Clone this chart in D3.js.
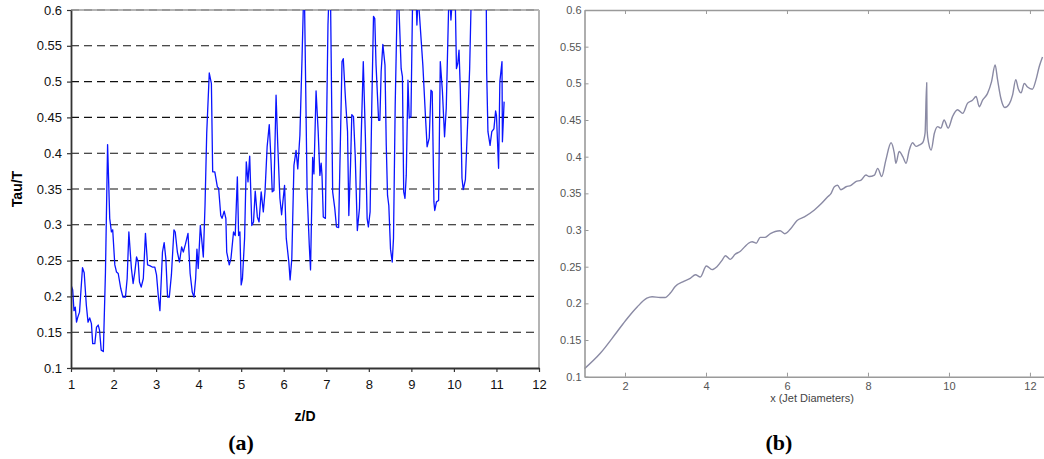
<!DOCTYPE html>
<html lang="en">
<head>
<meta charset="UTF-8">
<title>Tau/T vs z/D</title>
<script src="https://d3js.org/d3.v7.min.js"></script>
<style>
  body { margin: 0; background: #fff; }
  svg { display: block; }
</style>
</head>
<body>
<script type="text/javascript">
// ---- panel (a): measured Tau/T against z/D ----
var aZ = [1.00,1.04,1.07,1.10,1.13,1.16,1.20,1.27,1.31,1.36,1.40,1.44,1.48,1.51,1.56,1.60,1.64,1.67,1.71,1.76,
  1.81,1.86,1.91,1.95,1.98,2.03,2.07,2.11,2.17,2.22,2.28,2.32,2.36,2.42,2.46,2.50,2.54,2.58,2.61,2.65,
  2.70,2.75,2.80,2.85,2.91,2.97,3.01,3.05,3.09,3.15,3.19,3.23,3.27,3.31,3.36,3.42,3.45,3.50,3.55,3.60,
  3.64,3.69,3.75,3.80,3.85,3.89,3.93,3.96,3.99,4.04,4.07,4.11,4.15,4.19,4.25,4.30,4.33,4.38,4.44,4.47,
  4.52,4.55,4.60,4.64,4.66,4.72,4.76,4.82,4.86,4.91,4.94,4.97,5.00,5.03,5.08,5.12,5.16,5.20,5.25,5.29,
  5.33,5.38,5.42,5.47,5.52,5.56,5.61,5.66,5.70,5.73,5.77,5.82,5.86,5.91,5.95,5.98,6.02,6.06,6.12,6.15,
  6.19,6.24,6.29,6.33,6.38,6.43,6.48,6.55,6.60,6.63,6.68,6.71,6.76,6.81,6.85,6.88,6.90,6.93,6.98,7.00,
  7.04,7.09,7.15,7.20,7.24,7.29,7.33,7.37,7.40,7.45,7.50,7.53,7.57,7.60,7.64,7.68,7.73,7.78,7.82,7.87,
  7.92,7.96,7.99,8.03,8.07,8.11,8.14,8.17,8.23,8.26,8.29,8.33,8.38,8.41,8.44,8.47,8.51,8.55,8.58,8.62,
  8.68,8.76,8.79,8.82,8.85,8.88,8.92,8.95,8.99,9.04,9.10,9.13,9.16,9.27,9.33,9.37,9.42,9.46,9.49,9.53,
  9.55,9.59,9.64,9.68,9.73,9.78,9.82,9.89,9.93,9.98,10.03,10.06,10.09,10.12,10.15,10.19,10.22,10.27,10.33,10.37,
  10.43,10.55,10.67,10.76,10.77,10.80,10.85,10.89,10.94,10.98,11.00,11.05,11.08,11.13,11.14,11.18];
var aTau = [0.216,0.209,0.180,0.185,0.164,0.171,0.178,0.240,0.233,0.188,0.164,0.170,0.162,0.134,0.134,0.157,0.160,0.153,0.125,0.123,
  0.234,0.412,0.309,0.290,0.293,0.244,0.234,0.232,0.211,0.199,0.199,0.225,0.290,0.239,0.218,0.234,0.255,0.248,0.220,0.213,
  0.225,0.288,0.244,0.243,0.241,0.241,0.230,0.202,0.180,0.262,0.275,0.252,0.199,0.199,0.230,0.293,0.290,0.262,0.248,0.269,
  0.262,0.273,0.288,0.232,0.206,0.199,0.225,0.266,0.239,0.299,0.281,0.255,0.327,0.428,0.512,0.497,0.374,0.374,0.353,0.351,
  0.313,0.309,0.319,0.309,0.262,0.244,0.253,0.290,0.285,0.367,0.285,0.290,0.216,0.225,0.281,0.388,0.360,0.396,0.299,0.304,
  0.347,0.311,0.304,0.346,0.318,0.346,0.409,0.440,0.392,0.346,0.348,0.481,0.411,0.337,0.314,0.332,0.355,0.281,0.248,0.223,
  0.253,0.383,0.404,0.378,0.425,0.532,0.650,0.346,0.272,0.237,0.394,0.371,0.487,0.430,0.369,0.386,0.369,0.311,0.309,0.411,
  0.579,0.670,0.346,0.323,0.297,0.296,0.411,0.528,0.532,0.477,0.430,0.313,0.383,0.454,0.451,0.397,0.292,0.323,0.421,0.528,
  0.421,0.309,0.297,0.318,0.468,0.591,0.588,0.523,0.446,0.446,0.514,0.552,0.523,0.411,0.341,0.327,0.266,0.248,0.281,0.467,
  0.650,0.518,0.507,0.346,0.337,0.369,0.502,0.449,0.451,0.660,0.640,0.579,0.620,0.523,0.453,0.409,0.421,0.488,0.486,0.332,
  0.320,0.332,0.334,0.528,0.486,0.423,0.463,0.640,0.586,0.630,0.620,0.518,0.525,0.544,0.490,0.365,0.349,0.363,0.453,0.518,
  0.680,0.700,0.680,0.620,0.514,0.430,0.411,0.430,0.434,0.459,0.453,0.379,0.500,0.528,0.416,0.472];
var aXTicks = [1,2,3,4,5,6,7,8,9,10,11,12];
var aYTicks = [0.1,0.15,0.2,0.25,0.3,0.35,0.4,0.45,0.5,0.55,0.6];

// ---- panel (b): computed Tau/T against x (jet diameters) ----
var bX = [1.00,1.39,1.80,2.05,2.30,2.54,2.67,2.87,2.99,3.12,3.24,3.45,3.61,3.74,3.86,4.01,4.15,4.27,4.40,4.48,
  4.60,4.72,4.85,4.97,5.05,5.14,5.24,5.34,5.46,5.59,5.71,5.83,5.95,6.08,6.25,6.43,6.67,6.85,7.00,7.09,
  7.17,7.25,7.33,7.46,7.58,7.70,7.83,7.95,8.03,8.16,8.24,8.34,8.44,8.57,8.65,8.69,8.77,8.86,8.94,9.02,
  9.10,9.19,9.27,9.35,9.41,9.45,9.46,9.50,9.56,9.64,9.72,9.80,9.88,9.98,10.09,10.21,10.34,10.46,10.58,10.67,
  10.75,10.83,10.95,11.05,11.14,11.20,11.28,11.38,11.49,11.57,11.65,11.71,11.78,11.86,11.94,12.06,12.15,12.23,12.31];
var bTau = [0.111,0.132,0.161,0.179,0.195,0.207,0.209,0.208,0.208,0.214,0.223,0.230,0.234,0.239,0.236,0.251,0.246,0.250,0.259,0.265,
  0.260,0.267,0.271,0.278,0.282,0.284,0.282,0.290,0.290,0.295,0.298,0.299,0.295,0.301,0.313,0.318,0.327,0.336,0.345,0.350,
  0.359,0.361,0.355,0.359,0.361,0.366,0.368,0.375,0.373,0.375,0.384,0.373,0.395,0.419,0.405,0.391,0.407,0.400,0.391,0.409,
  0.419,0.414,0.416,0.419,0.432,0.501,0.436,0.418,0.409,0.432,0.441,0.439,0.450,0.439,0.455,0.464,0.459,0.473,0.477,0.482,
  0.468,0.477,0.486,0.502,0.525,0.505,0.480,0.467,0.472,0.484,0.505,0.493,0.487,0.500,0.495,0.492,0.505,0.523,0.536];
var bXTicks = [2,4,6,8,10,12];
var bYTicks = [0.1,0.15,0.2,0.25,0.3,0.35,0.4,0.45,0.5,0.55,0.6];

var W = 1044, H = 459;
var fmt = d3.format(".2~f");

var svg = d3.select("body").append("svg").attr("width", W).attr("height", H);

// ================= panel (a) =================
var ax = d3.scaleLinear().domain([1, 12]).range([71, 539]);
var ay = d3.scaleLinear().domain([0.1, 0.6]).range([368, 10]);

var ga = svg.append("g");

// frame on top and right (grey)
ga.append("line").attr("x1", ax(1)).attr("x2", ax(12)).attr("y1", ay(0.6)).attr("y2", ay(0.6))
  .attr("stroke", "#b4b4b4").attr("stroke-width", 2);
ga.append("line").attr("x1", ax(12)).attr("x2", ax(12)).attr("y1", ay(0.6)).attr("y2", ay(0.1))
  .attr("stroke", "#b4b4b4").attr("stroke-width", 2);

// dashed grid
ga.append("g")
  .selectAll("line")
  .data(aYTicks.filter(function(d){ return d > 0.1; }))
  .enter()
  .append("line")
  .attr("x1", ax(1)).attr("x2", ax(12))
  .attr("y1", function(d){ return ay(d); })
  .attr("y2", function(d){ return ay(d); })
  .attr("stroke", function(d){ return d === 0.6 ? "#808080" : "#111"; })
  .attr("stroke-width", 1.1)
  .attr("stroke-dasharray", "8,5");

// line
ga.append("clipPath").attr("id", "clipA")
  .append("rect").attr("x", ax(1)).attr("y", ay(0.6)).attr("width", ax(12) - ax(1)).attr("height", ay(0.1) - ay(0.6));

var lineA = d3.line()
  .x(function(d, i){ return ax(aZ[i]); })
  .y(function(d){ return ay(d); });

ga.append("path")
  .datum(aTau)
  .attr("clip-path", "url(#clipA)")
  .attr("d", lineA)
  .attr("fill", "none")
  .attr("stroke", "#0a14ff")
  .attr("stroke-width", 1.3)
  .attr("stroke-linejoin", "round");

// axes
var aLeft = ga.append("g").attr("transform", "translate(" + ax(1) + ",0)")
  .call(d3.axisLeft(ay).tickValues(aYTicks).tickFormat(fmt).tickSizeInner(4).tickSizeOuter(0).tickPadding(5));
var aBottom = ga.append("g").attr("transform", "translate(0," + ay(0.1) + ")")
  .call(d3.axisBottom(ax).tickValues(aXTicks).tickFormat(d3.format("d")).tickSizeInner(4).tickSizeOuter(0).tickPadding(8));

[aLeft, aBottom].forEach(function(g){
  g.select(".domain").attr("stroke", "#333").attr("stroke-width", 1.8);
  g.selectAll(".tick line").attr("stroke", "#333").attr("stroke-width", 1.2);
  g.selectAll("text").attr("font-family", "Liberation Sans, Arial, sans-serif")
    .attr("font-size", "13px").attr("fill", "#111");
});

ga.append("text")
  .attr("transform", "translate(22," + ((ay(0.6) + ay(0.1)) / 2) + ") rotate(-90)")
  .attr("text-anchor", "middle")
  .attr("font-family", "Liberation Sans, Arial, sans-serif")
  .attr("font-size", "14px").attr("font-weight", "bold")
  .text("Tau/T");

ga.append("text")
  .attr("x", (ax(1) + ax(12)) / 2).attr("y", 421)
  .attr("text-anchor", "middle")
  .attr("font-family", "Liberation Sans, Arial, sans-serif")
  .attr("font-size", "14px").attr("font-weight", "bold")
  .text("z/D");

ga.append("text")
  .attr("x", 241).attr("y", 450)
  .attr("text-anchor", "middle")
  .attr("font-family", "Liberation Serif, Times New Roman, serif")
  .attr("font-size", "22px").attr("font-weight", "bold")
  .text("(a)");

// ================= panel (b) =================
var bx = d3.scaleLinear().domain([1, 12.5]).range([584.5, 1050.2]);
var by = d3.scaleLinear().domain([0.1, 0.6]).range([376.7, 10]);

var gb = svg.append("g");

var lineB = d3.line()
  .x(function(d, i){ return bx(bX[i]); })
  .y(function(d){ return by(d); })
  .curve(d3.curveMonotoneX);

gb.append("path")
  .datum(bTau)
  .attr("d", lineB)
  .attr("fill", "none")
  .attr("stroke", "#8a8aa4")
  .attr("stroke-width", 1.4)
  .attr("stroke-linejoin", "round");

var bLeft = gb.append("g").attr("transform", "translate(" + bx(1) + ",0)")
  .call(d3.axisLeft(by).tickValues(bYTicks).tickFormat(fmt).tickSizeInner(-4).tickSizeOuter(0).tickPadding(3));
var bBottom = gb.append("g").attr("transform", "translate(0," + by(0.1) + ")")
  .call(d3.axisBottom(bx).tickValues(bXTicks).tickFormat(d3.format("d")).tickSizeInner(-4).tickSizeOuter(0).tickPadding(6));
var bTop = gb.append("g").attr("transform", "translate(0," + by(0.6) + ")")
  .call(d3.axisTop(bx).tickValues(bXTicks).tickFormat("").tickSizeInner(-4).tickSizeOuter(0));

[bLeft, bBottom, bTop].forEach(function(g){
  g.select(".domain").attr("stroke", "#9a9a9a").attr("stroke-width", 1.6);
  g.selectAll(".tick line").attr("stroke", "#9a9a9a").attr("stroke-width", 1);
  g.selectAll("text").attr("font-family", "Liberation Sans, Arial, sans-serif")
    .attr("font-size", "11px").attr("fill", "#555");
});

gb.append("text")
  .attr("x", 812).attr("y", 402)
  .attr("text-anchor", "middle")
  .attr("font-family", "Liberation Sans, Arial, sans-serif")
  .attr("font-size", "11px").attr("fill", "#444")
  .text("x (Jet Diameters)");

gb.append("text")
  .attr("x", 779).attr("y", 450)
  .attr("text-anchor", "middle")
  .attr("font-family", "Liberation Serif, Times New Roman, serif")
  .attr("font-size", "22px").attr("font-weight", "bold")
  .text("(b)");
</script>
</body>
</html>
